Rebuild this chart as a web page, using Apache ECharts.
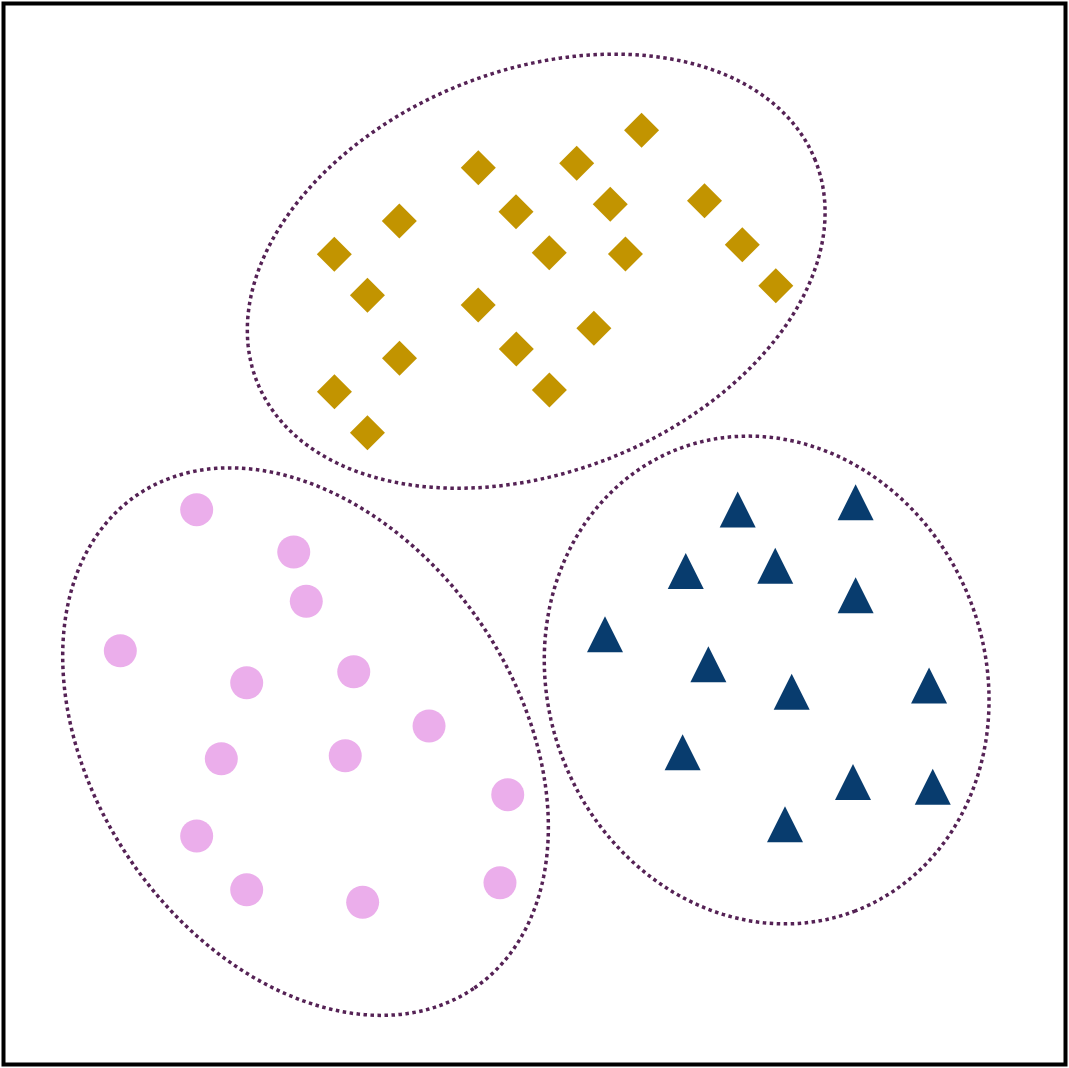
<!DOCTYPE html>
<html>
<head>
<meta charset="utf-8">
<script src="https://cdn.jsdelivr.net/npm/echarts@6/dist/echarts.min.js"></script>
<style>
html,body{margin:0;padding:0;background:#fff;}
#chart{width:1069px;height:1068px;}
</style>
</head>
<body>
<div id="chart"></div>
<script>
// Cluster A: gold diamonds
const diamonds = [
  [60.08, 88.05], [44.71, 84.52], [53.97, 84.94], [37.27, 79.50], [48.26, 80.38],
  [57.13, 81.07], [66.01, 81.41], [31.15, 76.36], [51.39, 76.51], [58.56, 76.39],
  [69.57, 77.27], [34.27, 72.50], [44.70, 71.58], [72.72, 73.40], [55.59, 69.39],
  [48.29, 67.44], [37.29, 66.56], [31.16, 63.41], [51.40, 63.57], [34.27, 59.55]
];
// Cluster B: navy triangles
const triangles = [
  [69.13, 52.31], [80.24, 52.99], [64.24, 46.51], [72.67, 47.01], [80.24, 44.22],
  [56.64, 40.56], [66.37, 37.73], [74.22, 35.14], [87.15, 35.72], [63.95, 29.43],
  [79.99, 26.63], [87.50, 26.17], [73.59, 22.64]
];
// Cluster C: pink circles
const circles = [
  [18.19, 52.29], [27.33, 48.30], [28.51, 43.66], [11.00, 39.00], [22.90, 35.98],
  [32.98, 37.02], [40.07, 31.90], [20.51, 28.82], [32.18, 29.10], [47.48, 25.43],
  [18.19, 21.54], [22.90, 16.47], [33.82, 15.29], [46.75, 17.13]
];
// Cluster boundaries: [centerX, centerY, semiMajor, semiMinor, angleDeg]
const ellipses = [
  [50.16, 74.77, 28.28, 18.94, 21.6],
  [28.44, 30.43, 28.14, 19.92, -55.6],
  [71.86, 36.24, 23.31, 20.58, -69.3]
];

const chart = echarts.init(document.getElementById('chart'), null, {renderer: 'canvas'});
const hiddenAxis = {
  type: 'value', min: 0, max: 100,
  axisLine: {show: false}, axisTick: {show: false},
  axisLabel: {show: false}, splitLine: {show: false}
};
chart.setOption({
  animation: false,
  backgroundColor: '#ffffff',
  grid: {
    left: 3.5, right: 3.5, top: 3.5, bottom: 3.5,
    show: true, borderColor: '#000000', borderWidth: 4, backgroundColor: 'transparent'
  },
  xAxis: Object.assign({}, hiddenAxis),
  yAxis: Object.assign({}, hiddenAxis),
  series: [
    {
      type: 'custom',
      data: ellipses,
      clip: false,
      silent: true,
      z: 1,
      encode: {x: 0, y: 1},
      renderItem: function (params, api) {
        const cx = api.value(0), cy = api.value(1);
        const a = api.value(2), b = api.value(3);
        const th = api.value(4) * Math.PI / 180;
        const pts = [];
        const N = 240;
        for (let i = 0; i < N; i++) {
          const t = 2 * Math.PI * i / N;
          const x = cx + a * Math.cos(t) * Math.cos(th) - b * Math.sin(t) * Math.sin(th);
          const y = cy + a * Math.cos(t) * Math.sin(th) + b * Math.sin(t) * Math.cos(th);
          pts.push(api.coord([x, y]));
        }
        return {
          type: 'polygon',
          shape: {points: pts},
          style: {fill: 'none', stroke: '#552255', lineWidth: 3.5, lineDash: [3.5, 3.5], lineCap: 'butt', opacity: 1}
        };
      }
    },
    {
      type: 'scatter', data: diamonds, symbol: 'diamond', symbolSize: 35,
      itemStyle: {color: '#C29400', opacity: 1}, z: 3, silent: true
    },
    {
      type: 'scatter', data: triangles, symbol: 'triangle', symbolSize: 36,
      itemStyle: {color: '#083C6E', opacity: 1}, z: 3, silent: true
    },
    {
      type: 'scatter', data: circles, symbol: 'circle', symbolSize: 33,
      itemStyle: {color: '#EBAEEB', opacity: 1}, z: 3, silent: true
    }
  ]
});
</script>
</body>
</html>
